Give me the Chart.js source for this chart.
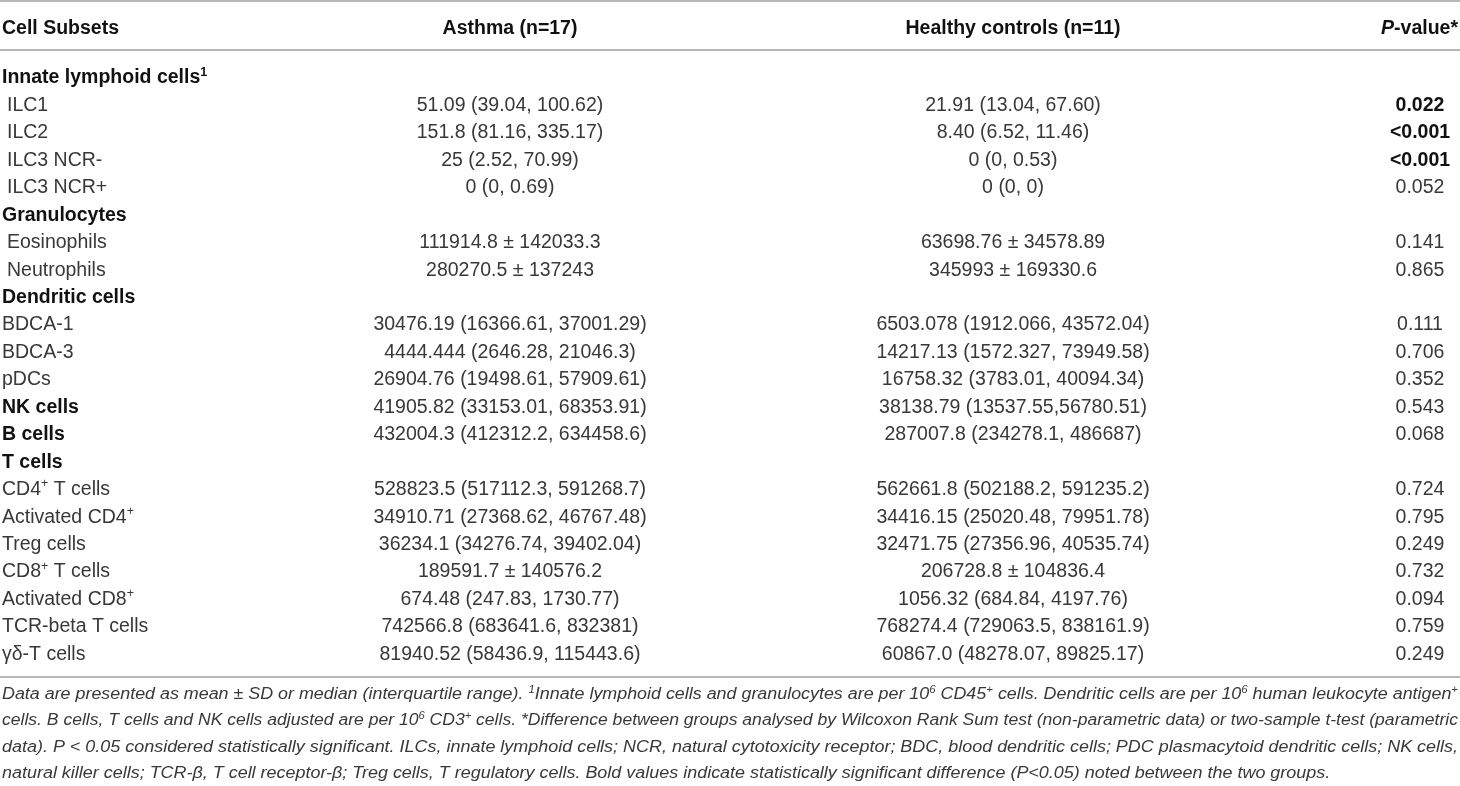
<!DOCTYPE html>
<html>
<head>
<meta charset="utf-8">
<title>Cell subsets table</title>
<script src="https://cdn.jsdelivr.net/npm/chart.js@4.4.1/dist/chart.umd.min.js"></script>
<style>
    html, body { margin: 0; padding: 0; background: #fff; }
    #wrap { width: 1460px; height: 786px; position: relative; }
</style>
</head>
<body>
<div id="wrap"><canvas id="tableChart"></canvas></div>
<script>
// Table content (^{..} = superscript, ~{..} = italic)
const headers = ['Cell Subsets', 'Asthma (n=17)', 'Healthy controls (n=11)', '~{P}-value*'];

const subsets = [
    'Innate lymphoid cells^{1}', 'ILC1', 'ILC2', 'ILC3 NCR-', 'ILC3 NCR+',
    'Granulocytes', 'Eosinophils', 'Neutrophils',
    'Dendritic cells', 'BDCA-1', 'BDCA-3', 'pDCs',
    'NK cells', 'B cells', 'T cells',
    'CD4^{+} T cells', 'Activated CD4^{+}', 'Treg cells', 'CD8^{+} T cells',
    'Activated CD8^{+}', 'TCR-beta T cells', 'γδ-T cells'
];

// group = bold heading, sub = indented member, item = plain member
const rowKinds = [
    'group', 'sub', 'sub', 'sub', 'sub',
    'group', 'sub', 'sub',
    'group', 'item', 'item', 'item',
    'group', 'group', 'group',
    'item', 'item', 'item', 'item', 'item', 'item', 'item'
];

const asthma = [
    '', '51.09 (39.04, 100.62)', '151.8 (81.16, 335.17)', '25 (2.52, 70.99)', '0 (0, 0.69)',
    '', '111914.8 ± 142033.3', '280270.5 ± 137243',
    '', '30476.19 (16366.61, 37001.29)', '4444.444 (2646.28, 21046.3)', '26904.76 (19498.61, 57909.61)',
    '41905.82 (33153.01, 68353.91)', '432004.3 (412312.2, 634458.6)', '',
    '528823.5 (517112.3, 591268.7)', '34910.71 (27368.62, 46767.48)', '36234.1 (34276.74, 39402.04)',
    '189591.7 ± 140576.2', '674.48 (247.83, 1730.77)', '742566.8 (683641.6, 832381)',
    '81940.52 (58436.9, 115443.6)'
];

const controls = [
    '', '21.91 (13.04, 67.60)', '8.40 (6.52, 11.46)', '0 (0, 0.53)', '0 (0, 0)',
    '', '63698.76 ± 34578.89', '345993 ± 169330.6',
    '', '6503.078 (1912.066, 43572.04)', '14217.13 (1572.327, 73949.58)', '16758.32 (3783.01, 40094.34)',
    '38138.79 (13537.55,56780.51)', '287007.8 (234278.1, 486687)', '',
    '562661.8 (502188.2, 591235.2)', '34416.15 (25020.48, 79951.78)', '32471.75 (27356.96, 40535.74)',
    '206728.8 ± 104836.4', '1056.32 (684.84, 4197.76)', '768274.4 (729063.5, 838161.9)',
    '60867.0 (48278.07, 89825.17)'
];

const pValues = [
    '', '0.022', '<0.001', '<0.001', '0.052',
    '', '0.141', '0.865',
    '', '0.111', '0.706', '0.352',
    '0.543', '0.068', '',
    '0.724', '0.795', '0.249', '0.732', '0.094', '0.759', '0.249'
];

const significant = [
    false, true, true, true, false,
    false, false, false,
    false, false, false, false,
    false, false, false,
    false, false, false, false, false, false, false
];

const footnotes = [
    'Data are presented as mean ± SD or median (interquartile range). ^{1}Innate lymphoid cells and granulocytes are per 10^{6} CD45^{+} cells. Dendritic cells are per 10^{6} human leukocyte antigen^{+}',
    'cells. B cells, T cells and NK cells adjusted are per 10^{6} CD3^{+} cells. *Difference between groups analysed by Wilcoxon Rank Sum test (non-parametric data) or two-sample t-test (parametric',
    'data). P < 0.05 considered statistically significant. ILCs, innate lymphoid cells; NCR, natural cytotoxicity receptor; BDC, blood dendritic cells; PDC plasmacytoid dendritic cells; NK cells,',
    'natural killer cells; TCR-β, T cell receptor-β; Treg cells, T regulatory cells. Bold values indicate statistically significant difference (P<0.05) noted between the two groups.'
];

// Layout (x in canvas px, y in row units)
const COL_X = { label: 2, indent: 7, asthma: 510, controls: 1013, p: 1420, pHead: 1458 };
const Y_RANGE = { min: -2.781, max: 25.853 };
const HEADER_ROW = -1.808;
const RULE_ROWS = [-2.745, -0.959, 21.882];
const FOOT_ROWS = [22.472, 23.438, 24.403, 25.368];
const FOOT_WIDTH = [1456, 1456, 1456, null];
const FAMILY = '"Liberation Sans", Arial, Helvetica, sans-serif';
const BODY = { size: 19.5, weight: 'normal', italic: false, family: FAMILY, color: '#383838' };
const BOLD = { size: 19.5, weight: 'bold', italic: false, family: FAMILY, color: '#111' };
const FOOT = { size: 16, weight: 'normal', italic: true, family: FAMILY, color: '#383838' };

const rowIdx = subsets.map((_, i) => i);

function parseRich(str) {
    const parts = [];
    const re = /(\^\{[^}]*\}|~\{[^}]*\})/g;
    let last = 0, m;
    while ((m = re.exec(str))) {
        if (m.index > last) parts.push({ t: str.slice(last, m.index), k: 'n' });
        parts.push({ t: m[0].slice(2, -1), k: m[0][0] === '^' ? 'sup' : 'it' });
        last = re.lastIndex;
    }
    if (last < str.length) parts.push({ t: str.slice(last), k: 'n' });
    return parts;
}

function fontFor(k, base) {
    const size = k === 'sup' ? base.size * 0.64 : base.size;
    const italic = base.italic || k === 'it';
    return (italic ? 'italic ' : '') + base.weight + ' ' + size + 'px ' + base.family;
}

// Draws a rich string with its cap-height centred on y; returns the horizontal scale used
function drawRich(ctx, str, x, y, align, base, targetWidth, forceScale) {
    const parts = parseRich(str);
    let w = 0;
    parts.forEach(p => {
        ctx.font = fontFor(p.k, base);
        p.w = ctx.measureText(p.t).width;
        w += p.w;
    });
    let sx = forceScale || 1;
    if (targetWidth) sx = targetWidth / w;
    const full = w * sx;
    const start = align === 'center' ? x - full / 2 : align === 'right' ? x - full : x;
    ctx.save();
    ctx.translate(start, y + base.size * 0.36);
    ctx.scale(sx, 1);
    ctx.fillStyle = base.color;
    ctx.textAlign = 'left';
    ctx.textBaseline = 'alphabetic';
    let cx = 0;
    parts.forEach(p => {
        ctx.font = fontFor(p.k, base);
        ctx.fillText(p.t, cx, p.k === 'sup' ? -base.size * 0.4 : 0);
        cx += p.w;
    });
    ctx.restore();
    return sx;
}

// Build one dataset per column; the points carry the text
function column(name, texts, xs, ys, align, styles) {
    return {
        label: name,
        data: texts.map((t, i) => ({ x: xs[i], y: ys[i] })),
        texts: texts,
        align: align,
        styles: styles,
        pointRadius: 0,
        showLine: false
    };
}

const datasets = [
    column('header', headers,
        [COL_X.label, COL_X.asthma, COL_X.controls, COL_X.pHead],
        headers.map(() => HEADER_ROW),
        ['left', 'center', 'center', 'right'],
        headers.map(() => BOLD)),
    column('subsets', subsets,
        rowKinds.map(k => k === 'sub' ? COL_X.indent : COL_X.label),
        rowIdx, subsets.map(() => 'left'),
        rowKinds.map(k => k === 'group' ? BOLD : BODY)),
    column('asthma', asthma, asthma.map(() => COL_X.asthma), rowIdx,
        asthma.map(() => 'center'), asthma.map(() => BODY)),
    column('controls', controls, controls.map(() => COL_X.controls), rowIdx,
        controls.map(() => 'center'), controls.map(() => BODY)),
    column('p', pValues, pValues.map(() => COL_X.p), rowIdx,
        pValues.map(() => 'center'), significant.map(s => s ? BOLD : BODY)),
    column('footnotes', footnotes, footnotes.map(() => COL_X.label), FOOT_ROWS,
        footnotes.map(() => 'left'), footnotes.map(() => FOOT))
];

const tablePlugin = {
    id: 'tableText',
    afterDatasetsDraw(chart) {
        const ctx = chart.ctx;
        const xs = chart.scales.x, ys = chart.scales.y;

        // horizontal rules
        ctx.save();
        ctx.strokeStyle = '#a0a0a0';
        ctx.lineWidth = 1.5;
        RULE_ROWS.forEach(r => {
            const py = ys.getPixelForValue(r);
            ctx.beginPath();
            ctx.moveTo(xs.getPixelForValue(0), py);
            ctx.lineTo(xs.getPixelForValue(1460), py);
            ctx.stroke();
        });
        ctx.restore();

        chart.data.datasets.forEach((ds, di) => {
            const meta = chart.getDatasetMeta(di);
            let lastScale = 1;
            meta.data.forEach((pt, i) => {
                const txt = ds.texts[i];
                if (!txt) return;
                if (ds.label === 'footnotes') {
                    const target = FOOT_WIDTH[i];
                    lastScale = drawRich(ctx, txt, pt.x, pt.y, 'left', ds.styles[i],
                        target, target ? null : lastScale);
                } else {
                    drawRich(ctx, txt, pt.x, pt.y, ds.align[i], ds.styles[i]);
                }
            });
        });
    }
};

new Chart(document.getElementById('tableChart'), {
    type: 'scatter',
    data: { datasets: datasets },
    options: {
        responsive: true,
        maintainAspectRatio: false,
        animation: false,
        events: [],
        layout: { padding: 0 },
        plugins: { legend: { display: false }, tooltip: { enabled: false } },
        scales: {
            x: { type: 'linear', display: false, min: 0, max: 1460 },
            y: { type: 'linear', display: false, min: Y_RANGE.min, max: Y_RANGE.max, reverse: true }
        }
    },
    plugins: [tablePlugin]
});
</script>
</body>
</html>
